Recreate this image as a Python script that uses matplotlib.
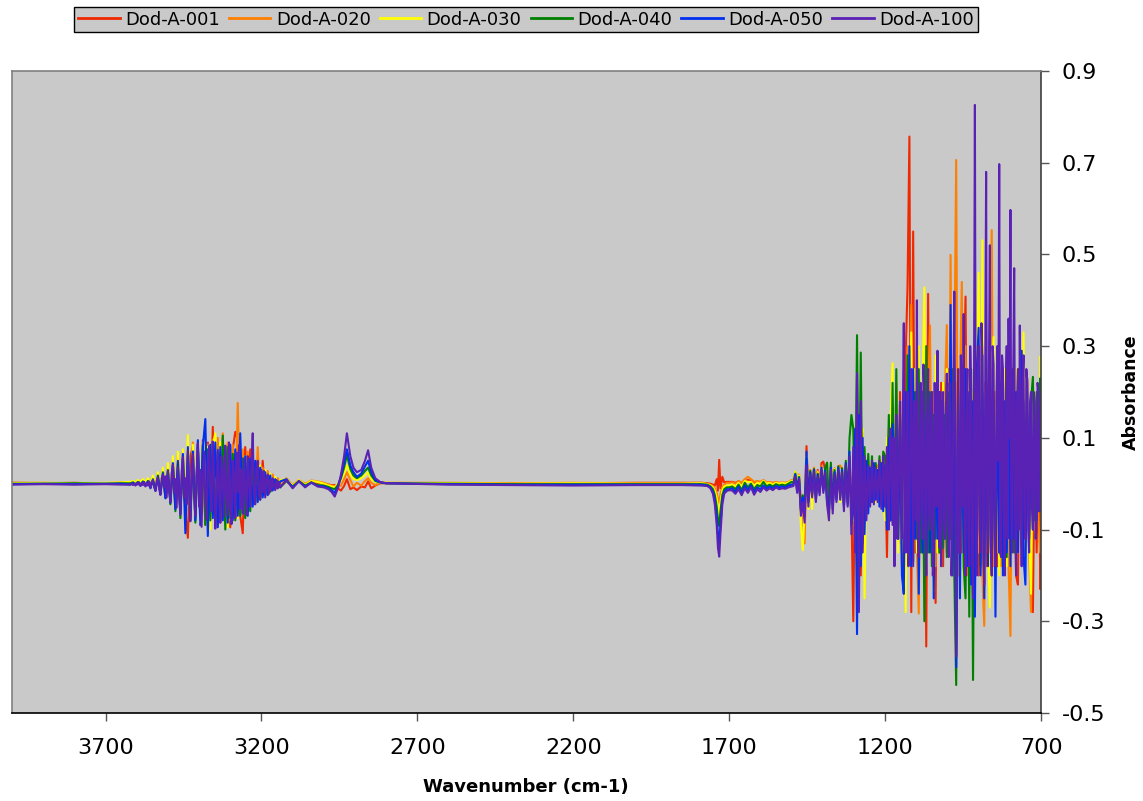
import matplotlib
matplotlib.use("Agg")
import matplotlib.pyplot as plt

# ---------------- data: wavenumber grids (cm-1) by segment ----------------
wn_s1 = [4000, 3900, 3800, 3700, 3650]
wn_s2 = list(range(3620, 3139, -8))          # 61 samples
wn_s2_fine = list(range(3620, 3139, -4))     # 121 samples (Dod-A-100)
wn_s3 = [3120, 3100, 3080, 3060, 3040, 3020, 3000, 2985, 2975, 2965,
         2955, 2945, 2935, 2926, 2915, 2905, 2894, 2880, 2868, 2858,
         2848, 2835, 2820, 2800]
wn_s4 = [2600, 2400, 2200, 2000, 1850, 1790]
wn_s5 = [1770, 1760, 1752, 1746, 1740, 1736, 1732, 1728, 1722, 1716, 1708, 1700]
wn_s6 = list(range(1690, 1499, -10))         # 20 samples
wn_s7 = list(range(1494, 1307, -6))          # 32 samples
wn_s8 = list(range(1302, 1205, -6))          # 17 samples
wn_s9 = list(range(1200, 701, -6)) + [700]   # 85 samples
wn_s9_fine = list(range(1200, 701, -3)) + [700]  # 168 samples (Dod-A-100)

# ---------------- Dod-A-001 (red) ----------------
s1_red = [0.002, 0.001, 0.002, 0.000, 0.002]
s2_red = [0.002, 0.004, -0.002, 0.005, -0.003, 0.006, -0.004, 0.008, -0.006, 0.012,
          -0.012, 0.020, -0.020, 0.028, -0.030, 0.035, -0.035, 0.050, -0.045, 0.055,
          -0.060, 0.070, -0.065, -0.118, 0.060, 0.080, -0.060, 0.085, -0.090, 0.095,
          -0.070, 0.090, -0.080, 0.124, -0.095, 0.080, -0.085, 0.100, -0.075, 0.085,
          -0.095, 0.075, 0.113, 0.095, -0.070, -0.108, 0.080, -0.060, 0.075, 0.060,
          -0.040, 0.045, -0.030, 0.050, -0.025, 0.020, -0.015, 0.018, -0.010, 0.010,
          -0.006]
s3_red = [0.006, -0.005, 0.006, -0.003, 0.004, 0.002, 0.000, -0.002, -0.003, -0.003,
          -0.010, -0.015, -0.005, 0.010, -0.012, -0.008, -0.014, -0.006, -0.008, 0.005,
          -0.010, -0.004, 0.001, 0.001]
s4_red = [0.001, 0.001, 0.001, 0.002, 0.002, 0.002]
s5_red = [0.001, 0.000, -0.002, -0.004, 0.010, -0.015, 0.052, -0.010, 0.015, 0.003, 0.004, 0.004]
s6_red = [0.004, 0.002, 0.005, 0.001, 0.006, 0.008, 0.007, 0.002, 0.004, 0.003,
          0.005, 0.001, 0.003, 0.001, 0.002, 0.001, 0.002, 0.001, 0.003, 0.005]
s7_red = [0.006, 0.022, -0.004, 0.016, -0.040, -0.035, -0.050, 0.082, -0.025, 0.026,
          -0.015, 0.033, -0.022, 0.030, -0.008, 0.045, 0.048, 0.030, -0.020, -0.035,
          0.036, -0.025, 0.030, -0.020, 0.034, -0.022, 0.028, -0.025, 0.040, -0.028,
          0.050, -0.050]
s8_red = [-0.300, 0.060, -0.100, 0.130, -0.200, 0.110, -0.080, 0.035, -0.040, 0.030,
          -0.035, 0.040, -0.030, 0.035, -0.035, 0.040, -0.050]
s9_red = [0.060, -0.160, 0.100, -0.080, 0.150, -0.100, 0.120, -0.130, 0.200, -0.180,
          -0.240, 0.280, 0.430, 0.757, -0.280, 0.550, -0.150, 0.250, -0.180, 0.200,
          -0.150, 0.220, -0.355, 0.414, -0.150, 0.200, -0.120, -0.260, 0.200, -0.150,
          0.220, -0.180, 0.200, -0.150, 0.250, -0.120, 0.200, -0.180, 0.220, -0.200,
          0.250, -0.150, 0.200, 0.408, -0.180, 0.220, -0.150, 0.200, -0.120, 0.250,
          -0.200, 0.180, -0.150, 0.220, -0.180, 0.200, -0.150, 0.250, -0.120, 0.200,
          -0.180, 0.220, -0.150, 0.200, -0.120, 0.180, -0.150, 0.200, -0.120, 0.150,
          -0.200, -0.220, 0.180, -0.100, 0.200, -0.150, 0.230, -0.120, 0.150, -0.280,
          0.100, -0.150, 0.120, -0.230, -0.100]

# ---------------- Dod-A-020 (orange) ----------------
s1_orange = [0.002, 0.002, 0.001, 0.001, 0.003]
s2_orange = [0.003, 0.005, 0.002, 0.006, 0.001, 0.008, 0.002, 0.010, -0.004, 0.015,
             -0.010, 0.022, -0.015, 0.030, -0.028, 0.038, -0.030, 0.050, -0.040, 0.065,
             -0.055, 0.060, -0.045, 0.070, -0.075, 0.090, -0.065, 0.080, -0.085, 0.075,
             -0.090, 0.085, -0.075, 0.095, -0.090, 0.100, -0.080, 0.110, -0.065, 0.090,
             -0.080, 0.085, -0.070, 0.176, -0.060, 0.075, -0.065, 0.070, -0.045, 0.055,
             -0.040, 0.080, -0.030, 0.035, -0.020, 0.028, -0.012, 0.020, -0.008, 0.012,
             -0.004]
s3_orange = [0.012, -0.003, 0.008, 0.000, 0.007, 0.005, 0.002, -0.002, -0.004, -0.005,
             -0.008, -0.004, 0.010, 0.025, 0.008, -0.006, 0.002, -0.004, 0.006, 0.012,
             0.002, -0.003, 0.002, 0.002]
s4_orange = [0.002, 0.001, 0.002, 0.001, 0.001, 0.002]
s5_orange = [0.000, -0.002, -0.005, -0.010, -0.020, -0.035, -0.042, -0.022, -0.008, -0.002, 0.002, 0.002]
s6_orange = [0.003, 0.000, 0.006, 0.002, 0.010, 0.015, 0.010, 0.004, 0.006, 0.004,
             0.008, 0.003, 0.004, 0.002, 0.004, 0.002, 0.003, 0.002, 0.004, 0.008]
s7_orange = [0.008, 0.026, -0.005, 0.020, -0.050, -0.060, -0.130, 0.070, -0.030, 0.030,
             -0.018, 0.035, -0.025, 0.028, -0.010, 0.038, -0.006, 0.032, -0.025, -0.040,
             0.038, -0.030, 0.034, -0.025, 0.038, 0.040, 0.030, -0.030, 0.040, -0.030,
             0.055, -0.060]
s8_orange = [-0.090, 0.080, -0.140, 0.120, -0.120, 0.100, -0.140, 0.045, -0.045, 0.040,
             -0.040, 0.035, -0.030, 0.040, -0.040, 0.045, -0.055]
s9_orange = [0.050, -0.080, 0.120, -0.060, 0.150, -0.100, 0.220, -0.120, 0.180, -0.150,
             0.250, -0.120, 0.300, -0.150, 0.390, -0.120, 0.200, -0.150, -0.283, 0.200,
             -0.150, 0.250, -0.180, 0.200, 0.345, -0.150, 0.200, -0.180, 0.220, -0.150,
             0.180, -0.120, 0.200, 0.346, -0.150, 0.499, -0.180, 0.250, 0.706, -0.200,
             0.200, 0.440, -0.150, 0.300, -0.200, 0.250, -0.150, 0.200, -0.180, 0.250,
             -0.150, 0.200, -0.200, -0.310, 0.250, -0.150, 0.300, 0.553, -0.180, 0.200,
             -0.150, 0.250, -0.180, 0.200, -0.150, 0.220, -0.180, -0.332, 0.200, -0.150,
             0.250, -0.120, 0.200, -0.150, 0.180, -0.120, 0.200, -0.150, -0.280, 0.150,
             -0.100, 0.120, -0.080, -0.150, -0.130]

# ---------------- Dod-A-030 (yellow) ----------------
s1_yellow = [0.001, 0.002, 0.001, 0.002, 0.003]
s2_yellow = [0.004, 0.006, 0.003, 0.008, 0.004, 0.010, 0.003, 0.012, -0.003, 0.018,
             -0.008, 0.025, -0.012, 0.035, -0.025, 0.045, -0.035, 0.060, -0.040, 0.070,
             -0.050, 0.075, -0.060, 0.106, -0.080, 0.085, -0.070, 0.075, -0.085, 0.090,
             -0.075, 0.080, -0.100, 0.085, 0.110, -0.090, 0.090, -0.070, 0.080, -0.095,
             0.075, -0.080, 0.070, -0.075, 0.065, -0.055, 0.060, -0.065, 0.050, -0.040,
             0.045, -0.035, 0.040, -0.025, 0.030, -0.015, 0.022, -0.010, 0.015, -0.006,
             0.008]
s3_yellow = [0.010, -0.004, 0.008, -0.002, 0.006, 0.004, 0.000, -0.004, -0.006, -0.008,
             0.000, 0.008, 0.022, 0.040, 0.020, 0.010, 0.008, 0.012, 0.018, 0.025,
             0.010, 0.004, 0.003, 0.002]
s4_yellow = [0.001, 0.000, 0.001, 0.000, 0.000, 0.001]
s5_yellow = [-0.001, -0.004, -0.008, -0.016, -0.032, -0.055, -0.065, -0.040, -0.015, -0.006, -0.004, -0.004]
s6_yellow = [-0.002, -0.006, 0.002, -0.006, 0.006, 0.004, 0.004, -0.004, 0.002, 0.000,
             0.006, 0.000, 0.002, -0.002, 0.002, 0.000, 0.002, 0.000, 0.003, 0.006]
s7_yellow = [0.005, 0.026, -0.008, 0.018, -0.090, -0.145, -0.060, 0.060, -0.055, 0.025,
             -0.055, 0.030, -0.028, 0.025, -0.012, 0.032, -0.008, 0.030, -0.030, -0.080,
             0.040, -0.040, 0.032, -0.028, 0.035, -0.040, 0.030, -0.035, 0.045, -0.035,
             0.060, -0.070]
s8_yellow = [-0.080, 0.100, -0.120, 0.140, -0.160, 0.120, -0.250, 0.040, -0.050, 0.045,
             -0.035, 0.040, -0.040, 0.032, -0.045, 0.050, -0.050]
s9_yellow = [-0.080, 0.100, -0.050, 0.150, 0.263, -0.120, 0.180, -0.150, 0.160, -0.120,
             0.200, -0.280, 0.220, -0.140, 0.330, -0.180, 0.250, -0.150, 0.300, -0.120,
             0.200, 0.428, -0.180, 0.220, -0.150, 0.180, -0.235, 0.280, -0.150, 0.200,
             -0.180, 0.220, -0.120, 0.250, -0.150, 0.200, -0.180, 0.300, -0.250, 0.200,
             -0.150, 0.250, -0.200, 0.220, -0.180, 0.250, -0.150, 0.200, -0.200, 0.250,
             0.460, -0.150, 0.531, -0.200, 0.250, -0.150, -0.270, 0.200, 0.320, -0.150,
             0.250, -0.200, 0.200, -0.150, 0.250, -0.180, 0.200, -0.150, 0.220, -0.120,
             0.250, -0.150, 0.200, -0.120, 0.330, -0.150, 0.200, -0.100, -0.240, 0.150,
             -0.080, 0.200, -0.050, 0.277, 0.270]

# ---------------- Dod-A-040 (green) ----------------
s1_green = [0.000, 0.000, 0.001, 0.000, 0.001]
s2_green = [0.001, 0.003, -0.001, 0.004, -0.002, 0.005, -0.003, 0.006, -0.008, 0.010,
            -0.015, 0.018, -0.022, 0.025, -0.030, 0.030, -0.045, 0.040, -0.060, 0.045,
            -0.075, 0.055, -0.060, 0.065, -0.080, 0.070, -0.085, 0.080, -0.070, 0.085,
            -0.090, 0.075, -0.080, 0.090, -0.085, 0.070, -0.080, 0.105, -0.100, 0.080,
            -0.075, 0.065, -0.080, 0.060, -0.070, 0.055, -0.075, 0.045, -0.060, 0.040,
            -0.040, 0.030, -0.035, 0.025, -0.025, 0.015, -0.018, 0.010, -0.012, 0.006,
            -0.008]
s3_green = [0.006, -0.006, 0.006, -0.004, 0.003, -0.003, -0.004, -0.007, -0.010, -0.012,
            -0.003, 0.012, 0.035, 0.063, 0.032, 0.018, 0.012, 0.018, 0.028, 0.035,
            0.018, 0.006, 0.003, 0.001]
s4_green = [0.000, -0.001, -0.001, -0.001, -0.001, -0.001]
s5_green = [-0.002, -0.006, -0.012, -0.025, -0.050, -0.080, -0.092, -0.060, -0.025, -0.012, -0.008, -0.008]
s6_green = [-0.006, -0.012, -0.002, -0.014, 0.002, -0.008, 0.000, -0.012, -0.003, -0.006,
            0.004, -0.006, -0.002, -0.006, -0.001, -0.004, -0.002, -0.004, 0.000, 0.004]
s7_green = [0.002, 0.022, -0.010, 0.015, -0.055, -0.025, -0.060, 0.055, -0.035, 0.028,
            -0.020, 0.032, -0.030, 0.022, -0.015, 0.030, -0.010, 0.035, 0.046, -0.050,
            0.046, -0.045, 0.030, -0.030, 0.038, -0.025, 0.034, -0.045, 0.050, -0.040,
            0.100, 0.150]
s8_green = [0.120, -0.100, 0.324, -0.120, 0.286, -0.130, 0.080, -0.060, 0.065, -0.040,
            0.060, -0.035, 0.045, -0.030, 0.060, -0.040, 0.070]
s9_green = [0.060, -0.050, 0.150, -0.080, 0.220, -0.100, 0.250, -0.120, 0.150, -0.100,
            0.200, -0.130, 0.280, -0.150, 0.180, -0.170, 0.200, -0.120, 0.250, -0.150,
            0.200, -0.300, 0.300, -0.150, 0.200, -0.180, 0.150, -0.120, 0.200, -0.150,
            0.180, -0.140, 0.150, -0.160, 0.200, -0.120, 0.250, -0.200, -0.439, 0.200,
            -0.150, 0.220, -0.180, -0.250, 0.200, -0.290, 0.250, -0.428, 0.200, -0.150,
            0.250, -0.180, 0.200, -0.160, 0.220, -0.150, 0.200, -0.200, 0.180, -0.140,
            0.220, -0.150, 0.200, -0.180, 0.150, -0.160, 0.180, -0.120, 0.200, -0.150,
            0.160, -0.130, 0.200, -0.140, 0.180, -0.120, 0.150, -0.100, 0.180, 0.233,
            -0.080, 0.200, -0.060, 0.230, 0.050]

# ---------------- Dod-A-050 (blue) ----------------
s1_blue = [-0.001, 0.000, -0.001, 0.000, 0.000]
s2_blue = [-0.002, 0.002, -0.003, 0.003, -0.004, 0.004, -0.005, 0.005, -0.010, 0.008,
           -0.016, 0.016, -0.024, 0.022, -0.032, 0.028, -0.042, 0.045, -0.055, 0.050,
           -0.065, 0.065, -0.108, 0.080, -0.075, 0.070, -0.080, 0.095, -0.090, 0.080,
           0.141, -0.114, 0.085, -0.075, 0.090, -0.095, 0.080, -0.080, 0.075, -0.085,
           0.085, -0.080, 0.075, -0.070, 0.110, -0.065, 0.060, -0.070, 0.055, -0.050,
           0.050, -0.040, 0.035, -0.030, 0.025, -0.025, 0.018, -0.015, 0.010, -0.010,
           0.005]
s3_blue = [0.010, -0.008, 0.005, -0.006, 0.002, -0.005, -0.006, -0.010, -0.014, -0.020,
           -0.006, 0.015, 0.045, 0.075, 0.040, 0.025, 0.015, 0.022, 0.038, 0.050,
           0.025, 0.008, 0.003, 0.001]
s4_blue = [-0.001, -0.002, -0.002, -0.002, -0.002, -0.002]
s5_blue = [-0.004, -0.008, -0.018, -0.035, -0.070, -0.110, -0.130, -0.090, -0.035, -0.018, -0.012, -0.012]
s6_blue = [-0.010, -0.018, -0.006, -0.020, -0.004, -0.014, -0.004, -0.018, -0.008, -0.012,
           -0.004, -0.010, -0.006, -0.010, -0.005, -0.008, -0.006, -0.008, -0.004, -0.002]
s7_blue = [-0.002, 0.020, -0.015, 0.012, -0.060, -0.030, -0.070, 0.070, -0.040, 0.025,
           -0.025, 0.030, -0.035, 0.020, -0.020, 0.035, -0.015, 0.028, -0.040, -0.060,
           0.035, -0.055, 0.025, -0.035, 0.035, -0.030, 0.030, -0.050, 0.045, -0.045,
           0.070, -0.090]
s8_blue = [-0.060, 0.120, -0.328, 0.150, -0.180, 0.100, -0.110, 0.050, -0.065, 0.035,
           -0.040, 0.045, -0.035, 0.030, -0.050, 0.045, -0.060]
s9_blue = [0.040, -0.100, 0.100, -0.080, 0.130, -0.150, 0.120, -0.120, 0.140, -0.200,
           -0.240, 0.200, -0.150, 0.300, -0.180, 0.250, -0.120, 0.200, -0.240, 0.180,
           -0.150, 0.150, -0.180, 0.200, -0.150, 0.180, -0.250, 0.150, -0.120, 0.200,
           -0.150, 0.180, -0.120, 0.220, -0.150, 0.390, -0.200, 0.250, -0.400, 0.200,
           -0.250, 0.220, -0.150, 0.250, -0.180, 0.200, -0.220, 0.180, -0.290, 0.250,
           0.340, -0.200, 0.280, -0.250, 0.220, -0.180, 0.300, -0.150, 0.200, -0.290,
           0.250, -0.150, 0.220, -0.200, 0.180, -0.150, 0.200, -0.180, 0.250, -0.120,
           0.200, -0.150, 0.180, 0.290, -0.160, -0.220, 0.200, -0.120, 0.150, -0.100,
           0.120, -0.080, 0.100, -0.060, 0.040]

# ---------------- Dod-A-100 (purple), finer sampling in the noisy bands ----------------
s1_purple = [-0.002, -0.001, -0.002, -0.001, -0.002]
s2_purple = [-0.002, 0.001, -0.003, 0.000, -0.004, 0.002, -0.002, 0.003, -0.005, 0.001,
             -0.003, 0.004, -0.006, 0.002, -0.004, 0.005, -0.009, 0.003, 0.008, -0.006,
             -0.015, 0.006, 0.014, -0.010, -0.024, 0.012, 0.020, -0.008, 0.016, -0.030,
             0.028, -0.012, -0.040, 0.022, 0.042, -0.020, 0.010, -0.052, 0.036, -0.015,
             -0.068, 0.025, 0.058, -0.030, 0.012, -0.045, 0.072, -0.010, -0.082, 0.040,
             0.064, -0.022, -0.070, 0.015, 0.088, -0.050, 0.030, -0.094, 0.010, 0.070,
             -0.035, -0.078, 0.045, 0.082, -0.015, -0.060, 0.092, 0.020, -0.098, -0.030,
             0.074, -0.010, -0.085, 0.060, 0.028, -0.072, 0.083, -0.020, -0.068, 0.090,
             -0.040, -0.088, 0.050, 0.015, -0.075, 0.068, -0.018, 0.084, -0.055, 0.030,
             -0.064, 0.055, -0.010, -0.068, 0.060, 0.008, -0.050, 0.045, 0.110, -0.020,
             -0.045, 0.035, 0.050, -0.025, -0.035, 0.030, -0.018, 0.028, -0.030, 0.010,
             0.020, -0.022, 0.008, -0.015, 0.012, -0.006, -0.014, 0.008, -0.010, 0.004,
             -0.008]
s3_purple = [0.008, -0.010, 0.006, -0.008, 0.003, -0.006, -0.008, -0.012, -0.018, -0.028,
             -0.010, 0.020, 0.060, 0.110, 0.060, 0.035, 0.025, 0.030, 0.050, 0.073,
             0.035, 0.012, 0.004, 0.001]
s4_purple = [-0.002, -0.003, -0.004, -0.003, -0.003, -0.004]
s5_purple = [-0.005, -0.010, -0.022, -0.045, -0.090, -0.140, -0.159, -0.110, -0.045, -0.022, -0.016, -0.014]
s6_purple = [-0.015, -0.022, -0.012, -0.025, -0.010, -0.020, -0.008, -0.024, -0.012, -0.018,
             -0.008, -0.015, -0.010, -0.014, -0.008, -0.012, -0.010, -0.011, -0.008, -0.006]
s7_purple = [-0.005, 0.015, -0.020, 0.010, -0.070, -0.040, -0.085, 0.040, -0.050, 0.020,
             -0.030, 0.025, -0.040, 0.015, -0.025, 0.030, -0.020, 0.025, -0.045, -0.080,
             0.030, -0.065, 0.020, -0.040, 0.030, -0.035, 0.025, -0.060, 0.040, -0.050,
             0.060, -0.110]
s8_purple = [0.080, -0.150, 0.241, -0.280, 0.180, -0.150, 0.060, -0.080, 0.040, -0.050,
             0.050, -0.045, 0.035, -0.040, 0.050, -0.055, 0.060]
s9_purple = [-0.050, 0.030, 0.080, -0.040, -0.100, 0.060, 0.120, 0.020, -0.090, 0.100,
             -0.180, 0.050, 0.150, -0.120, -0.060, 0.080, 0.180, -0.020, -0.120, 0.150,
             0.350, -0.050, -0.150, 0.100, 0.200, -0.180, -0.100, 0.120, 0.250, 0.030,
             -0.180, 0.180, 0.150, -0.080, 0.400, -0.120, -0.160, 0.100, 0.220, -0.050,
             -0.120, 0.260, 0.180, -0.100, -0.200, 0.150, 0.250, -0.060, -0.100, 0.180,
             0.200, -0.200, -0.150, 0.220, 0.120, -0.050, 0.290, 0.050, -0.140, 0.200,
             -0.180, 0.120, 0.200, -0.080, -0.120, 0.160, 0.240, -0.100, -0.160, 0.220,
             0.150, -0.200, -0.100, 0.180, 0.419, 0.100, -0.377, -0.100, 0.250, -0.150,
             -0.150, 0.280, 0.200, -0.050, 0.370, -0.120, -0.200, 0.150, 0.250, -0.100,
             -0.180, 0.300, 0.200, -0.150, -0.250, 0.180, 0.826, -0.050, -0.200, 0.220,
             0.300, -0.100, -0.150, 0.350, 0.280, -0.160, -0.220, 0.200, 0.680, -0.080,
             -0.150, 0.250, 0.520, -0.120, -0.200, 0.300, 0.260, -0.100, -0.180, 0.180,
             0.300, 0.050, 0.697, -0.150, -0.160, 0.280, 0.250, -0.080, -0.200, 0.200,
             0.300, -0.120, 0.360, 0.100, 0.597, -0.100, -0.150, 0.240, 0.470, -0.050,
             -0.200, 0.180, 0.250, -0.100, 0.345, 0.050, -0.180, 0.220, 0.280, -0.080,
             -0.120, 0.250, 0.220, -0.100, -0.150, 0.180, 0.200, -0.050, -0.100, 0.200,
             0.180, -0.120, -0.080, 0.220, 0.200, -0.060, 0.060, 0.200]

series_names = ["Dod-A-001", "Dod-A-020", "Dod-A-030", "Dod-A-040", "Dod-A-050", "Dod-A-100"]
series_keys = ["red", "orange", "yellow", "green", "blue", "purple"]
series_colors = ["#F02800", "#FF8000", "#FFFF00", "#008000", "#0030F0", "#5A22B4"]
x_ticks = [3700, 3200, 2700, 2200, 1700, 1200, 700]
y_ticks = [-0.5, -0.3, -0.1, 0.1, 0.3, 0.5, 0.7, 0.9]

grid_std = [wn_s1, wn_s2, wn_s3, wn_s4, wn_s5, wn_s6, wn_s7, wn_s8, wn_s9]
grid_fine = [wn_s1, wn_s2_fine, wn_s3, wn_s4, wn_s5, wn_s6, wn_s7, wn_s8, wn_s9_fine]


def join(key):
    g = globals()
    grids = grid_fine if key == "purple" else grid_std
    xs, ys = [], []
    for k, w in enumerate(grids, start=1):
        p = g[f"s{k}_{key}"]
        if len(p) != len(w):
            raise ValueError(f"segment {k} of {key}: {len(p)} values vs {len(w)} samples")
        xs += w
        ys += p
    return xs, ys


# ---------------- figure ----------------
fig = plt.figure(figsize=(11.43, 8.01), dpi=100)
ax = fig.add_axes([12 / 1143, 1 - 713 / 801, (1041 - 12) / 1143, (713 - 71) / 801])
ax.set_facecolor("#C9C9C9")

for name, key, col in zip(series_names, series_keys, series_colors):
    xs, ys = join(key)
    ax.plot(xs, ys, color=col, lw=1.5, label=name)

ax.set_xlim(4000, 700)
ax.set_ylim(-0.5, 0.9)
ax.set_xticks(x_ticks)
ax.set_xticklabels([str(t) for t in x_ticks])
ax.set_yticks(y_ticks)
ax.set_yticklabels([f"{t:.1f}" for t in y_ticks])

ax.yaxis.tick_right()
ax.yaxis.set_label_position("right")
ax.tick_params(axis="y", direction="out", length=6, width=1, labelsize=16, pad=9,
               colors="#555555", labelcolor="black")
ax.tick_params(axis="x", direction="out", length=6, width=1, labelsize=16, pad=12,
               colors="#555555", labelcolor="black")

for side in ["left", "top"]:
    ax.spines[side].set_color("#808080")
    ax.spines[side].set_linewidth(1.2)
ax.spines["bottom"].set_color("black")
ax.spines["bottom"].set_linewidth(1.2)
ax.spines["right"].set_color("#404040")
ax.spines["right"].set_linewidth(1.2)

ax.set_xlabel("Wavenumber (cm-1)", fontsize=13, fontweight="bold", va="center")
ax.xaxis.set_label_coords((526 - 12) / 1029, -(787 - 713) / 642)
ax.set_ylabel("Absorbance", fontsize=12.5, fontweight="bold", rotation=90, va="center")
ax.yaxis.set_label_coords((1131 - 12) / 1029, 0.5)

leg = fig.legend(loc="upper center", bbox_to_anchor=(526 / 1143, 1 - 7 / 801), ncol=6,
                 fontsize=13, frameon=True, fancybox=False, edgecolor="black",
                 facecolor="#C9C9C9", framealpha=1, handlelength=2.3,
                 handletextpad=0.3, columnspacing=0.5, borderpad=0.2,
                 borderaxespad=0)
leg.get_frame().set_linewidth(1.0)
for h in leg.get_lines():
    h.set_linewidth(2)

fig.savefig("out.png", dpi=100, facecolor="white")
